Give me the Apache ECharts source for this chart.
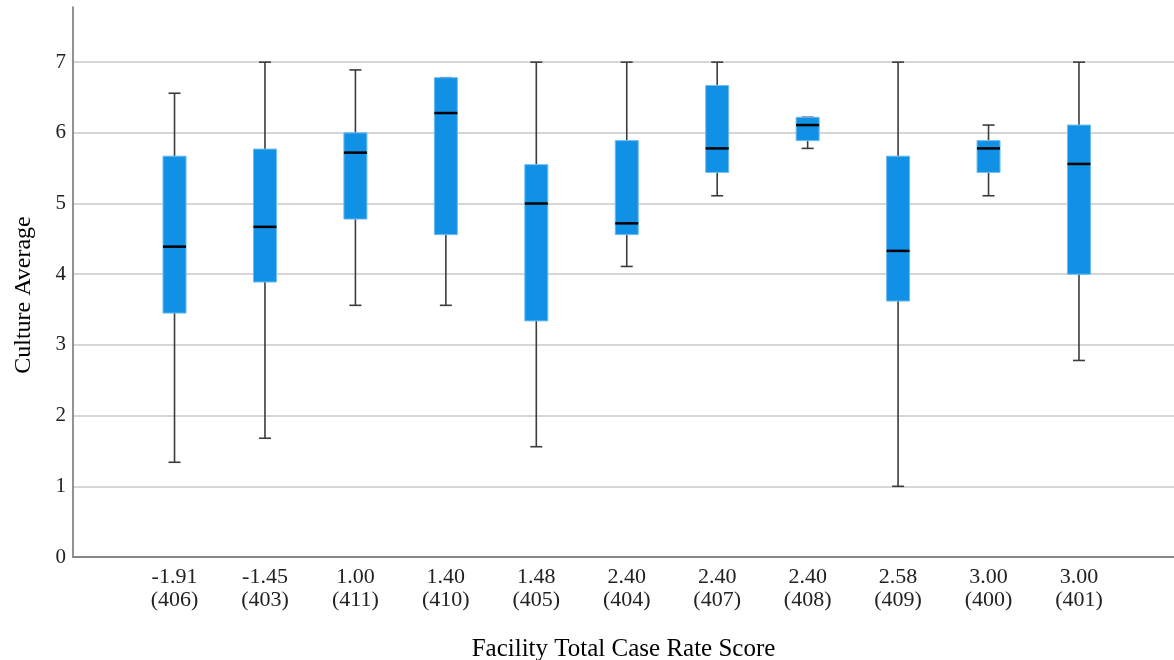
<!DOCTYPE html>
<html>
<head>
<meta charset="utf-8">
<script src="https://cdn.jsdelivr.net/npm/echarts@6/dist/echarts.min.js"></script>
<style>
  html, body { margin: 0; padding: 0; background: #ffffff; }
  #chart { width: 1174px; height: 660px; }
</style>
</head>
<body>
<div id="chart"></div>
<script>
// Facility case rate scores and facility ids shown on the category axis
const scores = ['-1.91', '-1.45', '1.00', '1.40', '1.48', '2.40', '2.40', '2.40', '2.58', '3.00', '3.00'];
const facilityIds = ['406', '403', '411', '410', '405', '404', '407', '408', '409', '400', '401'];

// Five-number summaries of the culture average per facility
const lowerWhisker = [1.34, 1.68, 3.56, 3.56, 1.56, 4.11, 5.11, 5.78, 1.00, 5.11, 2.78];
const q1           = [3.45, 3.89, 4.78, 4.56, 3.34, 4.56, 5.44, 5.89, 3.62, 5.44, 4.00];
const median       = [4.39, 4.67, 5.72, 6.28, 5.00, 4.72, 5.78, 6.11, 4.33, 5.78, 5.56];
const q3           = [5.67, 5.77, 6.00, 6.78, 5.55, 5.89, 6.67, 6.22, 5.67, 5.89, 6.11];
const upperWhisker = [6.56, 7.00, 6.89, 6.78, 7.00, 7.00, 7.00, 6.22, 7.00, 6.11, 7.00];

const yTicks = [0, 1, 2, 3, 4, 5, 6, 7];

const categories = scores.map((s, i) => s + '\n(' + facilityIds[i] + ')');
const boxData = categories.map((c, i) => [i, lowerWhisker[i], q1[i], median[i], q3[i], upperWhisker[i]]);

const FONT = '"Liberation Serif", "Times New Roman", serif';
const Y_MAX = 7.78;

const chart = echarts.init(document.getElementById('chart'), null, { renderer: 'canvas' });

function renderBox(params, api) {
  const idx = api.value(0);
  const pMin = api.coord([idx, api.value(1)]);
  const pQ1 = api.coord([idx, api.value(2)]);
  const pMed = api.coord([idx, api.value(3)]);
  const pQ3 = api.coord([idx, api.value(4)]);
  const pMax = api.coord([idx, api.value(5)]);
  const x = pMed[0];
  const boxW = 23;
  const capW = 12;
  const whiskerStyle = { stroke: '#3c3c3c', lineWidth: 1.6 };
  return {
    type: 'group',
    children: [
      { type: 'line', shape: { x1: x, y1: pMin[1], x2: x, y2: pQ1[1] }, style: whiskerStyle },
      { type: 'line', shape: { x1: x, y1: pQ3[1], x2: x, y2: pMax[1] }, style: whiskerStyle },
      { type: 'line', shape: { x1: x - capW / 2, y1: pMin[1], x2: x + capW / 2, y2: pMin[1] }, style: whiskerStyle },
      { type: 'line', shape: { x1: x - capW / 2, y1: pMax[1], x2: x + capW / 2, y2: pMax[1] }, style: whiskerStyle },
      {
        type: 'rect',
        shape: { x: x - boxW / 2, y: pQ3[1], width: boxW, height: pQ1[1] - pQ3[1] },
        style: { fill: '#1191e6', stroke: '#6dbcf0', lineWidth: 1 }
      },
      { type: 'line', shape: { x1: x - boxW / 2, y1: pMed[1], x2: x + boxW / 2, y2: pMed[1] }, style: { stroke: '#000000', lineWidth: 2.5 } }
    ]
  };
}

chart.setOption({
  backgroundColor: '#ffffff',
  animation: false,
  grid: [
    { left: 73, right: 0, top: 7, bottom: 103, outerBoundsMode: 'none', containLabel: false },
    { left: 129.3, right: 49.8, top: 7, bottom: 103, outerBoundsMode: 'none', containLabel: false }
  ],
  xAxis: [
    {
      type: 'value', gridIndex: 0, min: 0, max: 1,
      axisLine: { show: true, lineStyle: { color: '#6e6e6e', width: 1.5 } },
      axisTick: { show: false }, axisLabel: { show: false }, splitLine: { show: false },
      name: 'Facility Total Case Rate Score', nameLocation: 'middle', nameGap: 80,
      nameTextStyle: { fontFamily: FONT, fontSize: 25, color: '#000000' }
    },
    {
      type: 'category', gridIndex: 1, data: categories, boundaryGap: true,
      axisLine: { show: false }, axisTick: { show: false },
      axisLabel: { fontFamily: FONT, fontSize: 22, lineHeight: 23, color: '#222222', margin: 9, interval: 0 }
    }
  ],
  yAxis: [
    {
      type: 'value', gridIndex: 0, min: yTicks[0], max: Y_MAX, interval: 1,
      axisLine: { show: true, lineStyle: { color: '#6e6e6e', width: 1.5 } },
      axisTick: { show: false },
      axisLabel: { fontFamily: FONT, fontSize: 21, color: '#222222', margin: 7, showMaxLabel: false },
      splitLine: { show: true, showMaxLine: false, lineStyle: { color: '#c8c8c8', width: 1.5 } },
      name: 'Culture Average', nameLocation: 'middle', nameGap: 37,
      nameTextStyle: { fontFamily: FONT, fontSize: 24, color: '#000000', padding: [0, 26, 0, 0] }
    },
    {
      type: 'value', gridIndex: 1, min: yTicks[0], max: Y_MAX, show: false, splitLine: { show: false }
    }
  ],
  series: [
    {
      type: 'custom', xAxisIndex: 1, yAxisIndex: 1,
      renderItem: renderBox,
      encode: { x: 0, y: [1, 2, 3, 4, 5] },
      data: boxData
    }
  ]
});
</script>
</body>
</html>
